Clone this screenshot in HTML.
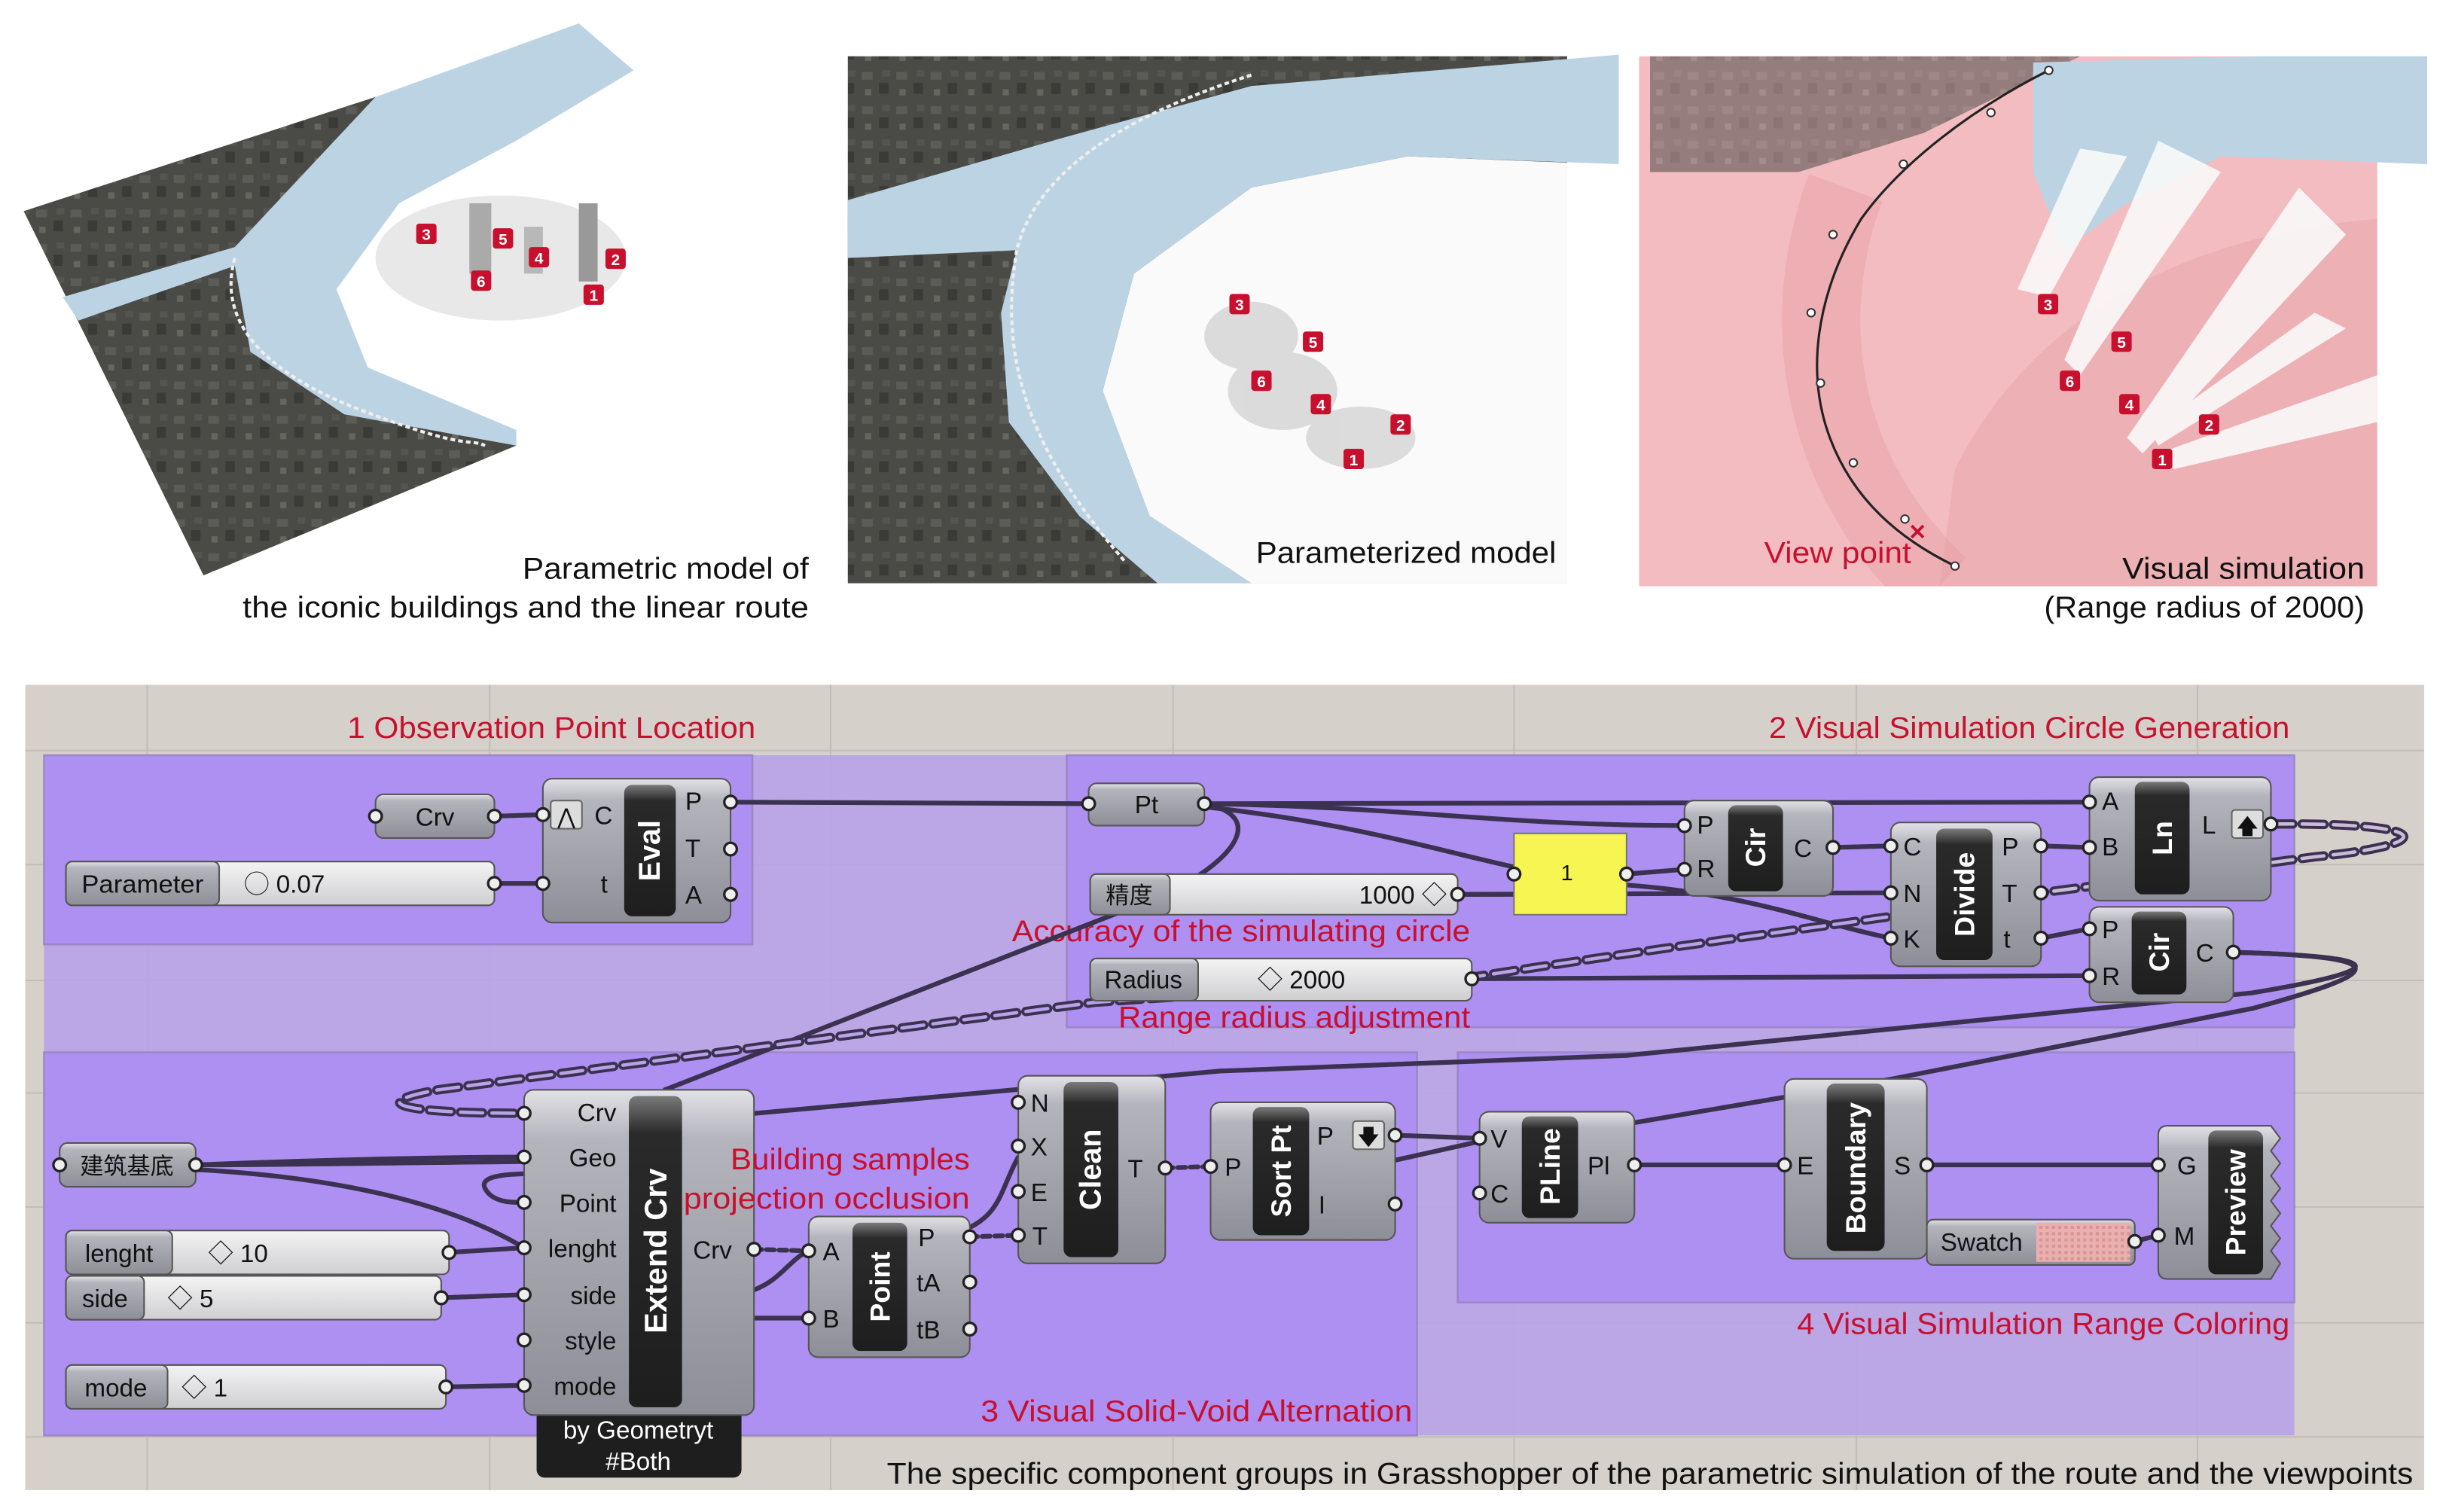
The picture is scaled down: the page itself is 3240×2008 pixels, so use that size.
<!DOCTYPE html>
<html><head><meta charset="utf-8"><style>html,body{margin:0;padding:0;background:#fff}svg{display:block}</style></head>
<body>
<svg xmlns="http://www.w3.org/2000/svg" width="3240" height="2008" viewBox="0 0 1560 967" font-family="'Liberation Sans Narrow','Liberation Sans','Noto Sans CJK SC',sans-serif">
<defs>
<linearGradient id="cg" x1="0" y1="0" x2="0" y2="1"><stop offset="0" stop-color="#e2e2e6"/><stop offset="0.15" stop-color="#b4b4bc"/><stop offset="1" stop-color="#8e8e98"/></linearGradient>
<linearGradient id="bg" x1="0" y1="0" x2="0" y2="1"><stop offset="0" stop-color="#7a7a7a"/><stop offset="0.12" stop-color="#2a2a2a"/><stop offset="1" stop-color="#1e1e1e"/></linearGradient>
<linearGradient id="sg" x1="0" y1="0" x2="0" y2="1"><stop offset="0" stop-color="#f4f4f4"/><stop offset="1" stop-color="#cfcfd2"/></linearGradient>
<pattern id="city" width="22" height="22" patternUnits="userSpaceOnUse"><rect width="22" height="22" fill="#4a4a46"/><rect x="1" y="2" width="7" height="5" fill="#5c5c57"/><rect x="12" y="9" width="6" height="7" fill="#3a3a37"/><rect x="3" y="13" width="4" height="4" fill="#66665f"/><rect x="14" y="1" width="5" height="4" fill="#55554f"/></pattern>
<pattern id="hatch" width="4" height="4" patternUnits="userSpaceOnUse"><rect width="4" height="4" fill="#eab0b0"/><rect width="2" height="2" fill="#d89494"/></pattern>
<clipPath id="p3"><rect x="1048" y="36" width="504" height="339"/></clipPath>
</defs>
<rect width="1560" height="967" fill="#fff"/>

<!-- Panel 1 -->
<polygon points="15,135 370,15 525,195 130,368" fill="#fff"/>
<polygon points="15,135 240,62 150,160 160,225 230,262 330,285 130,368" fill="url(#city)"/>
<polygon points="40,190 150,158 240,62 370,15 405,45 330,90 255,130 215,185 235,235 330,275 330,285 220,265 160,225 150,170 50,205" fill="#bcd3e3"/>
<ellipse cx="320" cy="165" rx="80" ry="40" fill="#e2e2e2" opacity="0.8"/>
<rect x="300" y="130" width="14" height="45" fill="#aaa"/><rect x="370" y="130" width="12" height="50" fill="#999"/><rect x="335" y="145" width="12" height="30" fill="#b8b8b8"/>
<g fill="#c8102e">
<rect x="266" y="143" width="13" height="13" rx="2"/><rect x="315" y="146" width="13" height="13" rx="2"/><rect x="338" y="158" width="13" height="13" rx="2"/><rect x="387" y="159" width="13" height="13" rx="2"/><rect x="301" y="173" width="13" height="13" rx="2"/><rect x="373" y="182" width="13" height="13" rx="2"/>
</g>
<g fill="#fff" font-size="10" font-weight="bold" text-anchor="middle" font-family="Liberation Sans">
<text x="272.5" y="153.5">3</text><text x="321.5" y="156.5">5</text><text x="344.5" y="168.5">4</text><text x="393.5" y="169.5">2</text><text x="307.5" y="183.5">6</text><text x="379.5" y="192.5">1</text></g>
<path d="M150,165 C140,200 160,235 230,262 S300,280 310,285" fill="none" stroke="#eee" stroke-width="2" stroke-dasharray="3 2"/>
<text x="517" y="370" font-size="19" text-anchor="end" fill="#111" textLength="183" lengthAdjust="spacingAndGlyphs">Parametric model of</text>
<text x="517" y="395" font-size="19" text-anchor="end" fill="#111" textLength="362" lengthAdjust="spacingAndGlyphs">the iconic buildings and the linear route</text>

<!-- Panel 2 -->
<rect x="542" y="36" width="460" height="337" fill="url(#city)"/>
<polygon points="1002,104 900,100 800,120 725,175 705,250 735,330 800,373 1002,373" fill="#fafafa"/>
<polygon points="542,128 680,88 800,55 1035,35 1035,105 900,100 800,120 725,175 705,250 735,330 800,373 740,373 690,330 645,270 640,200 650,160 542,165" fill="#bcd3e3"/>
<g fill="#d4d4d4" opacity="0.8"><ellipse cx="800" cy="215" rx="30" ry="22"/><ellipse cx="820" cy="250" rx="35" ry="25"/><ellipse cx="870" cy="280" rx="35" ry="20"/></g>
<path d="M800,48 C700,80 660,120 650,160 C640,220 650,280 720,360" fill="none" stroke="#eee" stroke-width="2" stroke-dasharray="3 2"/>
<g fill="#c8102e"><rect x="786" y="188" width="13" height="13" rx="2"/><rect x="833" y="212" width="13" height="13" rx="2"/><rect x="800" y="237" width="13" height="13" rx="2"/><rect x="838" y="252" width="13" height="13" rx="2"/><rect x="889" y="265" width="13" height="13" rx="2"/><rect x="859" y="287" width="13" height="13" rx="2"/></g>
<g fill="#fff" font-size="10" font-weight="bold" text-anchor="middle" font-family="Liberation Sans"><text x="792.5" y="198.5">3</text><text x="839.5" y="222.5">5</text><text x="806.5" y="247.5">6</text><text x="844.5" y="262.5">4</text><text x="895.5" y="275.5">2</text><text x="865.5" y="297.5">1</text></g>
<text x="995" y="360" font-size="19" text-anchor="end" fill="#111" textLength="192" lengthAdjust="spacingAndGlyphs">Parameterized model</text>

<!-- Panel 3 -->
<g clip-path="url(#p3)">
<rect x="1048" y="36" width="472" height="339" fill="#f2bcc0"/>
<polygon points="1055,36 1330,36 1230,85 1150,110 1055,110" fill="url(#city)"/>
<polygon points="1055,36 1330,36 1230,85 1150,110 1055,110" fill="#f2bcc0" opacity="0.45"/>
<path d="M1520,140 C1400,150 1300,200 1250,300 L1240,375 L1520,375 Z" fill="#eaa8ae" opacity="0.6"/>
<path d="M1180,120 C1150,200 1160,300 1240,375" fill="none" stroke="#e8a0a8" stroke-width="50" opacity="0.5"/>
<polygon points="1300,40 1552,33 1552,105 1420,100 1360,130 1320,160 1300,110" fill="#bcd3e3"/>
<g fill="#fafafa" opacity="0.9"><polygon points="1290,185 1330,95 1360,100 1310,190"/><polygon points="1320,230 1380,90 1420,110 1330,240"/><polygon points="1360,280 1470,120 1500,150 1370,290"/><polygon points="1375,275 1480,200 1500,210 1380,285"/><polygon points="1380,290 1520,240 1520,270 1390,300"/></g>
</g>
<path d="M1310,45 C1260,70 1215,105 1190,140 C1160,190 1155,240 1170,280 C1185,320 1215,345 1250,362" fill="none" stroke="#222" stroke-width="1.5"/>
<g fill="#fff" stroke="#333" stroke-width="1"><circle cx="1310" cy="45" r="2.5"/><circle cx="1273" cy="72" r="2.5"/><circle cx="1217" cy="105" r="2.5"/><circle cx="1172" cy="150" r="2.5"/><circle cx="1158" cy="200" r="2.5"/><circle cx="1164" cy="245" r="2.5"/><circle cx="1185" cy="296" r="2.5"/><circle cx="1218" cy="332" r="2.5"/><circle cx="1250" cy="362" r="2.5"/></g>
<text x="1226" y="345" font-size="14" fill="#c8102e" font-weight="bold" text-anchor="middle">✕</text>
<g fill="#c8102e"><rect x="1303" y="188" width="13" height="13" rx="2"/><rect x="1350" y="212" width="13" height="13" rx="2"/><rect x="1317" y="237" width="13" height="13" rx="2"/><rect x="1355" y="252" width="13" height="13" rx="2"/><rect x="1406" y="265" width="13" height="13" rx="2"/><rect x="1376" y="287" width="13" height="13" rx="2"/></g>
<g fill="#fff" font-size="10" font-weight="bold" text-anchor="middle" font-family="Liberation Sans"><text x="1309.5" y="198.5">3</text><text x="1356.5" y="222.5">5</text><text x="1323.5" y="247.5">6</text><text x="1361.5" y="262.5">4</text><text x="1412.5" y="275.5">2</text><text x="1382.5" y="297.5">1</text></g>
<text x="1128" y="360" font-size="19" fill="#c8102e" textLength="94" lengthAdjust="spacingAndGlyphs">View point</text>
<text x="1512" y="370" font-size="19" text-anchor="end" fill="#111" textLength="155" lengthAdjust="spacingAndGlyphs">Visual simulation</text>
<text x="1512" y="395" font-size="19" text-anchor="end" fill="#111" textLength="205" lengthAdjust="spacingAndGlyphs">(Range radius of 2000)</text>

<!-- Canvas -->
<rect x="16" y="438" width="1534" height="515" fill="#d5d1ca"/>
<g stroke="#c2beb6" stroke-width="1">
<line x1="94" y1="438" x2="94" y2="953"/><line x1="313" y1="438" x2="313" y2="953"/><line x1="531" y1="438" x2="531" y2="953"/><line x1="750" y1="438" x2="750" y2="953"/><line x1="968" y1="438" x2="968" y2="953"/><line x1="1187" y1="438" x2="1187" y2="953"/><line x1="1405" y1="438" x2="1405" y2="953"/>
<line x1="16" y1="480" x2="1550" y2="480"/><line x1="16" y1="553" x2="1550" y2="553"/><line x1="16" y1="627" x2="1550" y2="627"/><line x1="16" y1="699" x2="1550" y2="699"/><line x1="16" y1="772" x2="1550" y2="772"/><line x1="16" y1="846" x2="1550" y2="846"/><line x1="16" y1="919" x2="1550" y2="919"/>
</g>
<rect x="28" y="483" width="1439" height="435" fill="#b8a2e8" opacity="0.92"/>
<g fill="#ad8ff2" stroke="#9a86c8" stroke-width="1.2" opacity="0.95">
<rect x="28" y="483" width="453" height="121"/>
<rect x="682" y="483" width="785" height="174"/>
<rect x="28" y="673" width="878" height="245"/>
<rect x="932" y="673" width="535" height="160"/>
</g>

<!-- labels -->
<g fill="#c8102e" font-size="19">
<text x="222" y="472" textLength="261" lengthAdjust="spacingAndGlyphs">1 Observation Point Location</text>
<text x="1131" y="472" textLength="333" lengthAdjust="spacingAndGlyphs">2 Visual Simulation Circle Generation</text>
<text x="647" y="602" textLength="293" lengthAdjust="spacingAndGlyphs">Accuracy of the simulating circle</text>
<text x="715" y="657" textLength="225" lengthAdjust="spacingAndGlyphs">Range radius adjustment</text>
<text x="627" y="909" textLength="276" lengthAdjust="spacingAndGlyphs">3 Visual Solid-Void Alternation</text>
<text x="1149" y="853" textLength="315" lengthAdjust="spacingAndGlyphs">4 Visual Simulation Range Coloring</text>
</g>
<text x="567" y="949" font-size="19" fill="#111" textLength="976" lengthAdjust="spacingAndGlyphs">The specific component groups in Grasshopper of the parametric simulation of the route and the viewpoints</text>

<!-- wires -->
<g fill="none" stroke="#3b3150" stroke-width="3" stroke-linecap="round">
<path d="M316,522 L347,521"/><path d="M316,565 L347,565"/>
<path d="M467,513 L696,514"/>
<path d="M770,514 C810,522 790,550 745,572 L425,697"/>
<path d="M770,514 C900,516 960,528 1077,528"/>
<path d="M770,514 C1000,512 1200,513 1336,513"/>
<path d="M770,516 C900,530 960,560 1040,566 C1120,572 1160,590 1209,600"/>
<path d="M932,572 L968,572"/><path d="M932,572 C1000,572 1100,571 1209,571"/>
<path d="M1040,559 L1077,556"/>
<path d="M1172,542 L1209,541"/>
<path d="M1305,541 L1336,542"/>
<path d="M1305,600 L1336,594"/>
<path d="M941,626 C1100,626 1250,624 1336,624"/>
<path d="M1428,609 C1530,612 1530,620 1440,635 L1040,675 L780,685 L483,712"/>
<path d="M1428,609 C1535,612 1525,622 1440,645 L1210,690 L1045,718"/>
<path d="M125,745 C200,742 280,740 335,740"/>
<path d="M125,745 C250,745 480,738 470,748 C420,760 300,740 310,760 C315,770 330,769 335,769"/>
<path d="M125,748 C200,752 280,765 335,798"/>
<path d="M287,801 L335,798"/><path d="M282,830 L335,828"/><path d="M285,887 L335,886"/>
<path d="M482,843 L517,843"/><path d="M482,825 C500,818 505,805 517,800"/>
<path d="M892,726 L946,728"/><path d="M892,742 L946,730"/>
<path d="M620,785 C640,775 640,760 651,740"/>
<path d="M1045,745 L1141,745"/><path d="M1232,745 L1380,745"/><path d="M1365,794 L1380,790"/>
</g>
<g fill="none" stroke-linecap="round">
<path d="M1305,571 C1250,582 1100,600 941,625 L700,641 L280,697 C230,706 260,712 335,712" stroke="#3b3150" stroke-width="6" stroke-dasharray="14 6"/>
<path d="M1305,571 C1250,582 1100,600 941,625 L700,641 L280,697 C230,706 260,712 335,712" stroke="#b8a2e8" stroke-width="2.2" stroke-dasharray="14 6"/>
<path d="M1452,527 C1560,526 1560,540 1480,548 L1305,571" stroke="#3b3150" stroke-width="6" stroke-dasharray="14 6"/>
<path d="M1452,527 C1560,526 1560,540 1480,548 L1305,571" stroke="#c9bdd8" stroke-width="2.2" stroke-dasharray="14 6"/>
<g stroke="#3b3150" stroke-width="3" stroke-dasharray="5 3"><path d="M482,799 L517,800"/><path d="M620,791 L651,790"/><path d="M745,747 L774,746"/></g>
</g>

<!-- components -->
<g font-size="16" fill="#111">
<rect x="240" y="508" width="76" height="28" rx="5" fill="url(#cg)" stroke="#555"/>
<text x="278" y="528" text-anchor="middle">Crv</text>
<rect x="42" y="551" width="274" height="28" rx="4" fill="url(#sg)" stroke="#555"/>
<rect x="42" y="551" width="98" height="28" rx="4" fill="url(#cg)" stroke="#555"/>
<text x="91" y="571" text-anchor="middle" textLength="78" lengthAdjust="spacingAndGlyphs">Parameter</text>
<text x="156" y="571">◯ 0.07</text>
<rect x="347" y="498" width="120" height="92" rx="6" fill="url(#cg)" stroke="#555"/>
<rect x="399" y="502" width="33" height="84" rx="5" fill="url(#bg)"/>
<rect x="352" y="512" width="20" height="18" rx="2" fill="#ddd" stroke="#666"/><text x="362" y="527" font-size="14" text-anchor="middle">⋀</text>
<text x="380" y="527">C</text><text x="384" y="571">t</text>
<text x="438" y="518">P</text><text x="438" y="548">T</text><text x="438" y="578">A</text>
<text transform="translate(415.5,544) rotate(-90)" text-anchor="middle" dominant-baseline="central" fill="#fff" font-weight="bold" font-size="19" font-family="Liberation Sans">Eval</text>
<rect x="696" y="501" width="74" height="27" rx="5" fill="url(#cg)" stroke="#555"/>
<text x="733" y="520" text-anchor="middle">Pt</text>
<rect x="697" y="559" width="235" height="26" rx="4" fill="url(#sg)" stroke="#555"/>
<rect x="697" y="559" width="51" height="26" rx="4" fill="url(#cg)" stroke="#555"/>
<text x="722" y="578" text-anchor="middle" font-family="'Noto Sans CJK SC',sans-serif" font-size="15">精度</text>
<text x="925" y="578" text-anchor="end">1000 ◇</text>
<rect x="968" y="533" width="72" height="52" fill="#f7f552" stroke="#777"/>
<text x="998" y="563" font-size="14">1</text>
<rect x="1077" y="512" width="95" height="61" rx="6" fill="url(#cg)" stroke="#555"/>
<rect x="1105" y="515" width="35" height="55" rx="5" fill="url(#bg)"/>
<text x="1085" y="533">P</text><text x="1085" y="561">R</text><text x="1147" y="548">C</text>
<text transform="translate(1122.5,542) rotate(-90)" text-anchor="middle" dominant-baseline="central" fill="#fff" font-weight="bold" font-size="18" font-family="Liberation Sans">Cir</text>
<rect x="1209" y="526" width="96" height="92" rx="6" fill="url(#cg)" stroke="#555"/>
<rect x="1238" y="530" width="36" height="84" rx="5" fill="url(#bg)"/>
<text x="1217" y="547">C</text><text x="1217" y="577">N</text><text x="1217" y="606">K</text>
<text x="1280" y="547">P</text><text x="1280" y="577">T</text><text x="1281" y="606">t</text>
<text transform="translate(1256,572) rotate(-90)" text-anchor="middle" dominant-baseline="central" fill="#fff" font-weight="bold" font-size="18" font-family="Liberation Sans">Divide</text>
<rect x="1336" y="497" width="116" height="79" rx="6" fill="url(#cg)" stroke="#555"/>
<rect x="1365" y="500" width="35" height="72" rx="5" fill="url(#bg)"/>
<text x="1344" y="518">A</text><text x="1344" y="547">B</text><text x="1408" y="533">L</text>
<rect x="1427" y="518" width="20" height="18" rx="2" fill="#ddd" stroke="#666"/><text x="1437" y="533" font-size="14" text-anchor="middle">🡅</text>
<text transform="translate(1382.5,536) rotate(-90)" text-anchor="middle" dominant-baseline="central" fill="#fff" font-weight="bold" font-size="18" font-family="Liberation Sans">Ln</text>
<rect x="1336" y="580" width="92" height="61" rx="6" fill="url(#cg)" stroke="#555"/>
<rect x="1363" y="583" width="35" height="53" rx="5" fill="url(#bg)"/>
<text x="1344" y="600">P</text><text x="1344" y="630">R</text><text x="1404" y="615">C</text>
<text transform="translate(1380.5,609) rotate(-90)" text-anchor="middle" dominant-baseline="central" fill="#fff" font-weight="bold" font-size="18" font-family="Liberation Sans">Cir</text>
<rect x="697" y="613" width="244" height="27" rx="4" fill="url(#sg)" stroke="#555"/>
<rect x="697" y="613" width="69" height="27" rx="4" fill="url(#cg)" stroke="#555"/>
<text x="731" y="632" text-anchor="middle">Radius</text>
<text x="804" y="632">◇ 2000</text>
<rect x="343" y="890" width="131" height="55" rx="5" fill="#1e1e1e"/>
<text x="408" y="920" text-anchor="middle" fill="#fff">by Geometryt</text>
<text x="408" y="940" text-anchor="middle" fill="#fff">#Both</text>
<rect x="335" y="697" width="147" height="208" rx="6" fill="url(#cg)" stroke="#555"/>
<rect x="402" y="701" width="34" height="199" rx="5" fill="url(#bg)"/>
<g text-anchor="end"><text x="394" y="717">Crv</text><text x="394" y="746">Geo</text><text x="394" y="775">Point</text><text x="394" y="804">lenght</text><text x="394" y="834">side</text><text x="394" y="863">style</text><text x="394" y="892">mode</text></g>
<text x="443" y="805">Crv</text>
<text transform="translate(419,800) rotate(-90)" text-anchor="middle" dominant-baseline="central" fill="#fff" font-weight="bold" font-size="20" font-family="Liberation Sans">Extend Crv</text>
<rect x="38" y="731" width="87" height="28" rx="5" fill="url(#cg)" stroke="#555"/>
<text x="81" y="751" text-anchor="middle" font-family="'Noto Sans CJK SC',sans-serif" font-size="15">建筑基底</text>
<rect x="42" y="787" width="245" height="28" rx="4" fill="url(#sg)" stroke="#555"/><rect x="42" y="787" width="68" height="28" rx="4" fill="url(#cg)" stroke="#555"/>
<text x="76" y="807" text-anchor="middle">lenght</text><text x="133" y="807">◇ 10</text>
<rect x="42" y="816" width="240" height="28" rx="4" fill="url(#sg)" stroke="#555"/><rect x="42" y="816" width="50" height="28" rx="4" fill="url(#cg)" stroke="#555"/>
<text x="67" y="836" text-anchor="middle">side</text><text x="107" y="836">◇ 5</text>
<rect x="42" y="873" width="243" height="28" rx="4" fill="url(#sg)" stroke="#555"/><rect x="42" y="873" width="65" height="28" rx="4" fill="url(#cg)" stroke="#555"/>
<text x="74" y="893" text-anchor="middle">mode</text><text x="116" y="893">◇ 1</text>
<rect x="517" y="778" width="103" height="90" rx="6" fill="url(#cg)" stroke="#555"/>
<rect x="545" y="782" width="35" height="82" rx="5" fill="url(#bg)"/>
<text x="526" y="806">A</text><text x="526" y="849">B</text><text x="587" y="797">P</text><text x="586" y="826">tA</text><text x="586" y="856">tB</text>
<text transform="translate(562.5,823) rotate(-90)" text-anchor="middle" dominant-baseline="central" fill="#fff" font-weight="bold" font-size="18" font-family="Liberation Sans">Point</text>
<rect x="651" y="688" width="94" height="120" rx="6" fill="url(#cg)" stroke="#555"/>
<rect x="680" y="692" width="35" height="112" rx="5" fill="url(#bg)"/>
<text x="659" y="711">N</text><text x="659" y="739">X</text><text x="659" y="768">E</text><text x="660" y="796">T</text><text x="721" y="753">T</text>
<text transform="translate(697.5,748) rotate(-90)" text-anchor="middle" dominant-baseline="central" fill="#fff" font-weight="bold" font-size="19" font-family="Liberation Sans">Clean</text>
<rect x="774" y="705" width="118" height="88" rx="6" fill="url(#cg)" stroke="#555"/>
<rect x="801" y="708" width="36" height="82" rx="5" fill="url(#bg)"/>
<text x="783" y="752">P</text><text x="842" y="732">P</text><text x="843" y="776">I</text>
<rect x="865" y="717" width="20" height="18" rx="2" fill="#ddd" stroke="#666"/><text x="875" y="732" font-size="14" text-anchor="middle">🡇</text>
<text transform="translate(819,749) rotate(-90)" text-anchor="middle" dominant-baseline="central" fill="#fff" font-weight="bold" font-size="18" font-family="Liberation Sans">Sort Pt</text>
<rect x="946" y="711" width="99" height="71" rx="6" fill="url(#cg)" stroke="#555"/>
<rect x="973" y="714" width="36" height="65" rx="5" fill="url(#bg)"/>
<text x="953" y="734">V</text><text x="953" y="769">C</text><text x="1015" y="751">Pl</text>
<text transform="translate(991,746) rotate(-90)" text-anchor="middle" dominant-baseline="central" fill="#fff" font-weight="bold" font-size="18" font-family="Liberation Sans">PLine</text>
<rect x="1141" y="690" width="91" height="115" rx="6" fill="url(#cg)" stroke="#555"/>
<rect x="1168" y="693" width="37" height="107" rx="5" fill="url(#bg)"/>
<text x="1149" y="751">E</text><text x="1211" y="751">S</text>
<text transform="translate(1186.5,747) rotate(-90)" text-anchor="middle" dominant-baseline="central" fill="#fff" font-weight="bold" font-size="18" font-family="Liberation Sans">Boundary</text>
<rect x="1232" y="780" width="133" height="29" rx="4" fill="url(#cg)" stroke="#555"/>
<rect x="1302" y="782" width="60" height="25" fill="url(#hatch)"/>
<text x="1267" y="800" text-anchor="middle">Swatch</text>
<path d="M1386,720 L1452,720 L1458,728 L1452,736 L1458,744 L1452,752 L1458,760 L1452,768 L1458,776 L1452,784 L1458,792 L1452,800 L1458,808 L1452,818 L1386,818 Q1380,818 1380,812 L1380,726 Q1380,720 1386,720 Z" fill="url(#cg)" stroke="#555"/>
<rect x="1412" y="723" width="35" height="92" rx="5" fill="url(#bg)"/>
<text x="1392" y="751">G</text><text x="1390" y="796">M</text>
<text transform="translate(1429.5,769) rotate(-90)" text-anchor="middle" dominant-baseline="central" fill="#fff" font-weight="bold" font-size="18" font-family="Liberation Sans">Preview</text>
</g>

<g fill="#c8102e" font-size="19">
<text x="467" y="748" textLength="153" lengthAdjust="spacingAndGlyphs">Building samples</text>
<text x="437" y="773" textLength="183" lengthAdjust="spacingAndGlyphs">projection occlusion</text>
</g>

<!-- ports -->
<g fill="#eee" stroke="#222" stroke-width="1.6">
<circle cx="240" cy="522" r="4"/><circle cx="316" cy="522" r="4"/><circle cx="316" cy="565" r="4"/>
<circle cx="347" cy="521" r="4"/><circle cx="347" cy="565" r="4"/><circle cx="467" cy="513" r="4"/><circle cx="467" cy="543" r="4"/><circle cx="467" cy="572" r="4"/>
<circle cx="696" cy="514" r="4"/><circle cx="770" cy="514" r="4"/><circle cx="932" cy="572" r="4"/><circle cx="968" cy="559" r="4"/><circle cx="1040" cy="559" r="4"/>
<circle cx="1077" cy="528" r="4"/><circle cx="1077" cy="556" r="4"/><circle cx="1172" cy="542" r="4"/>
<circle cx="1209" cy="541" r="4"/><circle cx="1209" cy="571" r="4"/><circle cx="1209" cy="600" r="4"/><circle cx="1305" cy="541" r="4"/><circle cx="1305" cy="571" r="4"/><circle cx="1305" cy="600" r="4"/>
<circle cx="1336" cy="513" r="4"/><circle cx="1336" cy="542" r="4"/><circle cx="1452" cy="527" r="4"/>
<circle cx="1336" cy="594" r="4"/><circle cx="1336" cy="624" r="4"/><circle cx="1428" cy="609" r="4"/><circle cx="941" cy="626" r="4"/>
<circle cx="38" cy="745" r="4"/><circle cx="125" cy="745" r="4"/><circle cx="287" cy="801" r="4"/><circle cx="282" cy="830" r="4"/><circle cx="285" cy="887" r="4"/>
<circle cx="335" cy="712" r="4"/><circle cx="335" cy="740" r="4"/><circle cx="335" cy="769" r="4"/><circle cx="335" cy="798" r="4"/><circle cx="335" cy="828" r="4"/><circle cx="335" cy="857" r="4"/><circle cx="335" cy="886" r="4"/><circle cx="482" cy="799" r="4"/>
<circle cx="517" cy="800" r="4"/><circle cx="517" cy="843" r="4"/><circle cx="620" cy="791" r="4"/><circle cx="620" cy="820" r="4"/><circle cx="620" cy="850" r="4"/>
<circle cx="651" cy="705" r="4"/><circle cx="651" cy="733" r="4"/><circle cx="651" cy="762" r="4"/><circle cx="651" cy="790" r="4"/><circle cx="745" cy="747" r="4"/>
<circle cx="774" cy="746" r="4"/><circle cx="892" cy="726" r="4"/><circle cx="892" cy="770" r="4"/>
<circle cx="946" cy="728" r="4"/><circle cx="946" cy="763" r="4"/><circle cx="1045" cy="745" r="4"/>
<circle cx="1141" cy="745" r="4"/><circle cx="1232" cy="745" r="4"/><circle cx="1365" cy="794" r="4"/><circle cx="1380" cy="745" r="4"/><circle cx="1380" cy="790" r="4"/>
</g>
</svg>
</body></html>
